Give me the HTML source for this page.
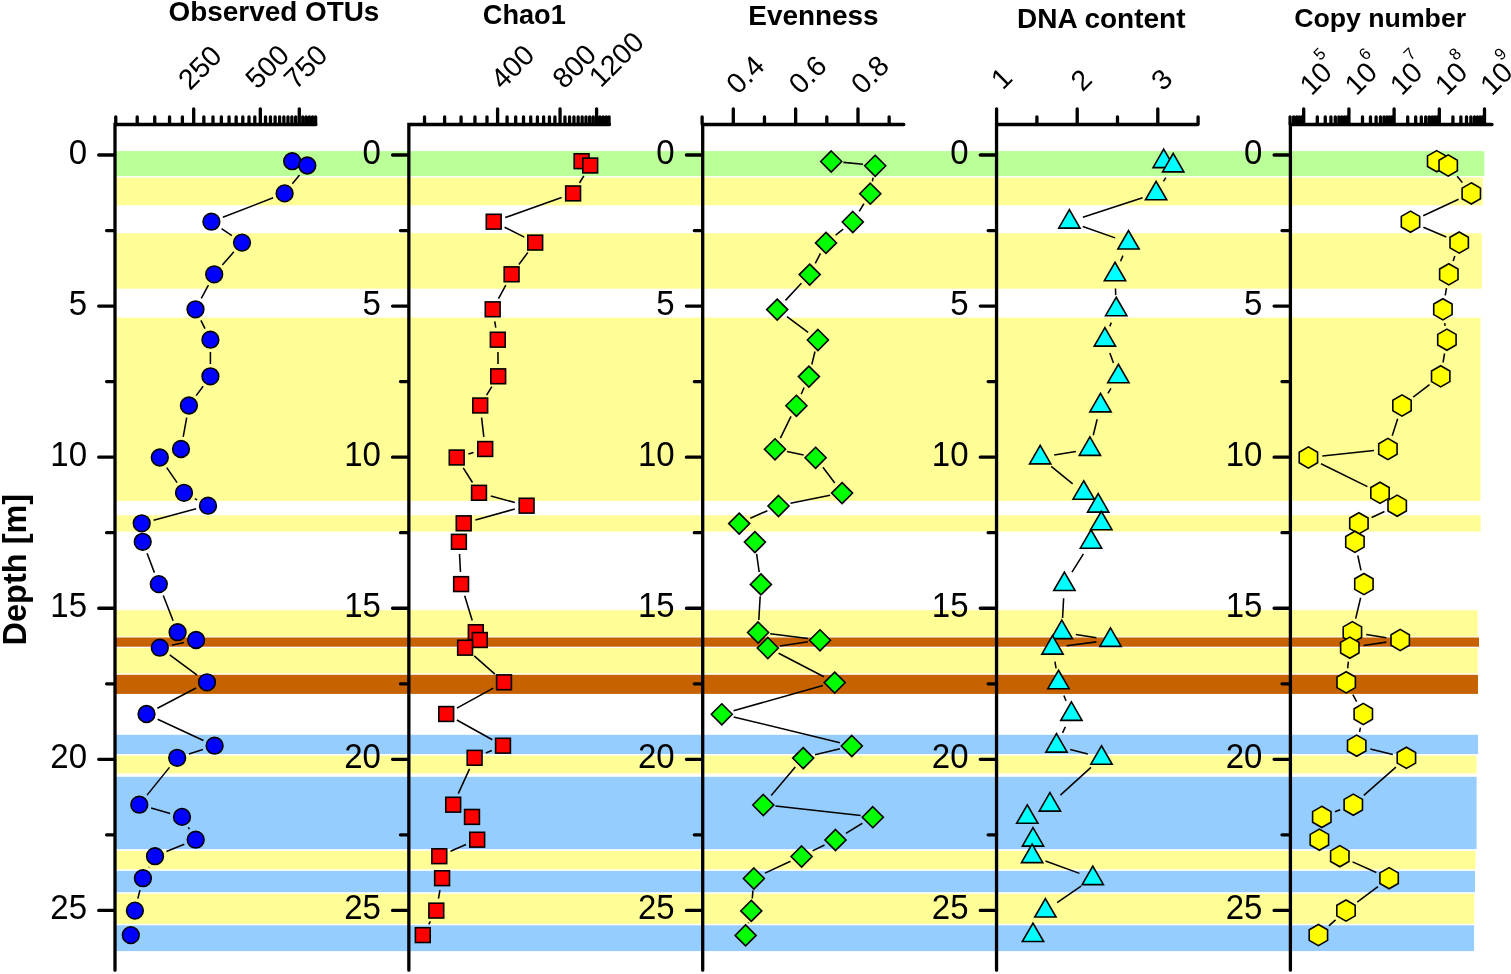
<!DOCTYPE html>
<html lang="en"><head><meta charset="utf-8"><title>Depth profiles</title>
<style>html,body{margin:0;padding:0;background:#fff}body{width:1511px;height:974px;overflow:hidden}svg{display:block}</style>
</head><body>
<svg width="1511" height="974" viewBox="0 0 1511 974" font-family='"Liberation Sans", sans-serif'>
<rect width="1511" height="974" fill="#fff"/>
<g>
<rect x="115" y="151.1" width="1369.3" height="25" fill="#BBFF99"/>
<rect x="115" y="177.5" width="1367.8" height="27.8" fill="#FFFD96"/>
<rect x="115" y="233.2" width="1366.9" height="55.5" fill="#FFFD96"/>
<rect x="115" y="317.6" width="1365.5" height="183.2" fill="#FFFD96"/>
<rect x="115" y="515.3" width="1365.6" height="16.2" fill="#FFFD96"/>
<rect x="115" y="610.2" width="1362.6" height="26.2" fill="#FFFD96"/>
<rect x="115" y="637.5" width="1364" height="9.2" fill="#C66300"/>
<rect x="115" y="648" width="1362.6" height="25.4" fill="#FFFD96"/>
<rect x="115" y="674.8" width="1363" height="19.1" fill="#C66300"/>
<rect x="115" y="734.8" width="1363" height="19.2" fill="#96CDFF"/>
<rect x="115" y="755.6" width="1361.6" height="17.9" fill="#FFFD96"/>
<rect x="115" y="776.8" width="1361.6" height="72.3" fill="#96CDFF"/>
<rect x="115" y="850.9" width="1360.6" height="18.4" fill="#FFFD96"/>
<rect x="115" y="870.9" width="1360" height="21.3" fill="#96CDFF"/>
<rect x="115" y="893.8" width="1359.3" height="30.1" fill="#FFFD96"/>
<rect x="115" y="925.3" width="1359.1" height="25.8" fill="#96CDFF"/>
</g>
<path d="M299.54 175.04L292.36 183.86M273.13 197.84L222.87 217.26M221.56 228.64L231.84 235.66M233.89 251.85L222.31 265.05M208.4 285.15L201.3 298.45M200.91 320.34L204.99 328.66M210.4 352L210.4 364M203.11 386.2L196.19 395.6M186.7 417.6L183.2 436.9M166.75 467.64L177.05 482.66M194.83 498.62L197.17 499.88M196.11 508.86L153.59 520.14M147.08 553.3L154.42 572.6M163.28 595.56L173.12 620.74M184.07 642.55L171.83 645.15M169.72 654.97L197.08 675.03M196.1 688.01L157.4 708.29M157.65 719.19L203.45 740.51M202.9 749.49L188.9 754.01M169.47 767.37L147.03 795.13M151.13 808.08L170.17 813.52M188.34 827.44L189.36 829.16M184.3 844.32L166.4 851.58M149.07 866.98L148.83 867.42M139.95 890.14L137.85 898.66" stroke="#000" stroke-width="1.55" fill="none"/>
<g fill="#0000FF" stroke="#000" stroke-width="1.6" stroke-linejoin="miter">
<circle cx="292.2" cy="161.2" r="8.35"/>
<circle cx="307.3" cy="165.5" r="8.35"/>
<circle cx="284.6" cy="193.4" r="8.35"/>
<circle cx="211.4" cy="221.7" r="8.35"/>
<circle cx="242" cy="242.6" r="8.35"/>
<circle cx="214.2" cy="274.3" r="8.35"/>
<circle cx="195.5" cy="309.3" r="8.35"/>
<circle cx="210.4" cy="339.7" r="8.35"/>
<circle cx="210.4" cy="376.3" r="8.35"/>
<circle cx="188.9" cy="405.5" r="8.35"/>
<circle cx="181" cy="449" r="8.35"/>
<circle cx="159.8" cy="457.5" r="8.35"/>
<circle cx="184" cy="492.8" r="8.35"/>
<circle cx="208" cy="505.7" r="8.35"/>
<circle cx="141.7" cy="523.3" r="8.35"/>
<circle cx="142.7" cy="541.8" r="8.35"/>
<circle cx="158.8" cy="584.1" r="8.35"/>
<circle cx="177.6" cy="632.2" r="8.35"/>
<circle cx="196.1" cy="640" r="8.35"/>
<circle cx="159.8" cy="647.7" r="8.35"/>
<circle cx="207" cy="682.3" r="8.35"/>
<circle cx="146.5" cy="714" r="8.35"/>
<circle cx="214.6" cy="745.7" r="8.35"/>
<circle cx="177.2" cy="757.8" r="8.35"/>
<circle cx="139.3" cy="804.7" r="8.35"/>
<circle cx="182" cy="816.9" r="8.35"/>
<circle cx="195.7" cy="839.7" r="8.35"/>
<circle cx="155" cy="856.2" r="8.35"/>
<circle cx="142.9" cy="878.2" r="8.35"/>
<circle cx="134.9" cy="910.6" r="8.35"/>
<circle cx="130.8" cy="935.1" r="8.35"/>
</g>
<path d="M583.82 175.9L579.48 183M561.61 197.5L505.19 217.6M504.6 227.19L524.3 237.11M527.91 252.39L518.89 264.51M505.8 285.03L498.5 298.57M494.72 321.33L495.78 327.67M497.93 351.9L498.07 364.1M491.8 386.69L486.6 395.11M481.59 417.62L483.81 436.88M473.51 452.49L468.39 454.01M463.22 467.81L472.48 482.49M490.78 495.99L514.82 502.51M514.85 508.99L475.45 520.01M459.53 553.98L460.47 571.92M464.67 595.77L472.23 620.53M474.22 655.81L494.88 674.19M493.3 688.17L456.9 708.13M456.85 719.95L492.35 739.75M491.78 750.48L485.82 753.02M469.54 768.9L458.26 793.6M466.01 844.57L450.49 851.33M439.95 890.21L438.45 898.59M430.41 921.29L428.69 924.41" stroke="#000" stroke-width="1.55" fill="none"/>
<g fill="#FF0000" stroke="#000" stroke-width="1.6" stroke-linejoin="miter">
<rect x="574.2" y="153.8" width="14.8" height="14.8"/>
<rect x="582.8" y="158.1" width="14.8" height="14.8"/>
<rect x="565.7" y="186" width="14.8" height="14.8"/>
<rect x="486.3" y="214.3" width="14.8" height="14.8"/>
<rect x="527.8" y="235.2" width="14.8" height="14.8"/>
<rect x="504.2" y="266.9" width="14.8" height="14.8"/>
<rect x="485.3" y="301.9" width="14.8" height="14.8"/>
<rect x="490.4" y="332.3" width="14.8" height="14.8"/>
<rect x="490.8" y="368.9" width="14.8" height="14.8"/>
<rect x="472.8" y="398.1" width="14.8" height="14.8"/>
<rect x="477.8" y="441.6" width="14.8" height="14.8"/>
<rect x="449.3" y="450.1" width="14.8" height="14.8"/>
<rect x="471.6" y="485.4" width="14.8" height="14.8"/>
<rect x="519.2" y="498.3" width="14.8" height="14.8"/>
<rect x="456.3" y="515.9" width="14.8" height="14.8"/>
<rect x="451.5" y="534.4" width="14.8" height="14.8"/>
<rect x="453.7" y="576.7" width="14.8" height="14.8"/>
<rect x="468.4" y="624.8" width="14.8" height="14.8"/>
<rect x="472.4" y="632.6" width="14.8" height="14.8"/>
<rect x="457.7" y="640.3" width="14.8" height="14.8"/>
<rect x="496.6" y="674.9" width="14.8" height="14.8"/>
<rect x="438.8" y="706.6" width="14.8" height="14.8"/>
<rect x="495.6" y="738.3" width="14.8" height="14.8"/>
<rect x="467.2" y="750.4" width="14.8" height="14.8"/>
<rect x="445.8" y="797.3" width="14.8" height="14.8"/>
<rect x="464.6" y="809.5" width="14.8" height="14.8"/>
<rect x="469.8" y="832.3" width="14.8" height="14.8"/>
<rect x="431.9" y="848.8" width="14.8" height="14.8"/>
<rect x="434.7" y="870.8" width="14.8" height="14.8"/>
<rect x="428.9" y="903.2" width="14.8" height="14.8"/>
<rect x="415.4" y="927.7" width="14.8" height="14.8"/>
</g>
<path d="M843.34 162.39L863.06 164.31M873.09 177.52L872.41 181.38M863.88 203.78L859.22 211.32M843.18 229.2L835.62 235.1M820.42 253.45L815.28 263.45M801.4 283.24L785.5 300.36M786.97 316.6L808.13 332.4M814.99 351.55L811.81 364.45M804.1 387.52L801.2 394.28M791.01 416.45L780.39 438.05M786.94 451.5L803.66 455M822.92 467.26L834.78 483.04M830.14 495.23L790.46 503.27M767.37 510.69L750.33 518.31M756.61 553.88L759.19 572.02M760.19 596.28L758.81 620.02M770.2 633.73L807.9 638.47M807.93 641.78L779.87 645.92M778.64 653.3L823.86 676.7M822.95 685.6L733.55 710.7M733.65 716.89L839.95 742.81M839.96 748.65L815.04 754.85M795.29 767.09L771.21 795.41M775.42 806.05L860.68 815.55M862.39 823.26L845.91 833.34M824.53 845.04L812.57 850.86M790.52 861.31L764.98 873.09M752.92 890.36L752.28 898.44M748.54 922.48L748.36 923.22" stroke="#000" stroke-width="1.55" fill="none"/>
<g fill="#00FF00" stroke="#000" stroke-width="1.6" stroke-linejoin="miter">
<path d="M831.2 151L841.7 161.5L831.2 172L820.7 161.5Z"/>
<path d="M875.2 155.3L885.7 165.8L875.2 176.3L864.7 165.8Z"/>
<path d="M870.3 183.2L880.8 193.7L870.3 204.2L859.8 193.7Z"/>
<path d="M852.8 211.5L863.3 222L852.8 232.5L842.3 222Z"/>
<path d="M826 232.4L836.5 242.9L826 253.4L815.5 242.9Z"/>
<path d="M809.7 264.1L820.2 274.6L809.7 285.1L799.2 274.6Z"/>
<path d="M777.2 299.1L787.7 309.6L777.2 320.1L766.7 309.6Z"/>
<path d="M817.9 329.5L828.4 340L817.9 350.5L807.4 340Z"/>
<path d="M808.9 366.1L819.4 376.6L808.9 387.1L798.4 376.6Z"/>
<path d="M796.4 395.3L806.9 405.8L796.4 416.3L785.9 405.8Z"/>
<path d="M775 438.8L785.5 449.3L775 459.8L764.5 449.3Z"/>
<path d="M815.6 447.3L826.1 457.8L815.6 468.3L805.1 457.8Z"/>
<path d="M842.1 482.6L852.6 493.1L842.1 503.6L831.6 493.1Z"/>
<path d="M778.5 495.5L789 506L778.5 516.5L768 506Z"/>
<path d="M739.2 513.1L749.7 523.6L739.2 534.1L728.7 523.6Z"/>
<path d="M754.9 531.6L765.4 542.1L754.9 552.6L744.4 542.1Z"/>
<path d="M760.9 573.9L771.4 584.4L760.9 594.9L750.4 584.4Z"/>
<path d="M758.1 622L768.6 632.5L758.1 643L747.6 632.5Z"/>
<path d="M820 629.8L830.5 640.3L820 650.8L809.5 640.3Z"/>
<path d="M767.8 637.5L778.3 648L767.8 658.5L757.3 648Z"/>
<path d="M834.7 672.1L845.2 682.6L834.7 693.1L824.2 682.6Z"/>
<path d="M721.8 703.8L732.3 714.3L721.8 724.8L711.3 714.3Z"/>
<path d="M851.8 735.5L862.3 746L851.8 756.5L841.3 746Z"/>
<path d="M803.2 747.6L813.7 758.1L803.2 768.6L792.7 758.1Z"/>
<path d="M763.3 794.5L773.8 805L763.3 815.5L752.8 805Z"/>
<path d="M872.8 806.7L883.3 817.2L872.8 827.7L862.3 817.2Z"/>
<path d="M835.5 829.5L846 840L835.5 850.5L825 840Z"/>
<path d="M801.6 846L812.1 856.5L801.6 867L791.1 856.5Z"/>
<path d="M753.9 868L764.4 878.5L753.9 889L743.4 878.5Z"/>
<path d="M751.3 900.4L761.8 910.9L751.3 921.4L740.8 910.9Z"/>
<path d="M745.6 924.9L756.1 935.4L745.6 945.9L735.1 935.4Z"/>
</g>
<path d="M1165.78 177.61L1163.52 181.29M1142.6 197.81L1082.9 217.29M1082.79 226.43L1115.11 237.87M1122.94 255.66L1120.56 261.24M1115.49 288.49L1115.71 295.11M1111.25 322.61L1109.85 326.39M1109.81 353.02L1113.49 362.98M1110.98 388.41L1107.92 393.39M1097.14 419.3L1093.26 435.2M1075.9 451.39L1054.2 455.11M1051.23 466.45L1072.67 483.85M1083.44 553.82L1071.96 572.08M1063.63 598.28L1062.57 618.02M1075.82 634.45L1096.48 637.75M1096.42 641.87L1066.58 645.83M1054.93 661.69L1056.07 668.31M1063.85 695.45L1066.05 700.85M1065.36 726.85L1062.54 732.85M1070.21 749.39L1087.79 754.11M1090.99 767.35L1060.41 795.15M1045.45 861.04L1079.45 873.36M1081.08 886.21L1057.12 902.59" stroke="#000" stroke-width="1.55" fill="none"/>
<g fill="#00FFFF" stroke="#000" stroke-width="1.6" stroke-linejoin="miter">
<path d="M1163.7 149.15L1174.35 167.6L1153.05 167.6Z"/>
<path d="M1173.2 153.45L1183.85 171.9L1162.55 171.9Z"/>
<path d="M1156.1 181.35L1166.75 199.8L1145.45 199.8Z"/>
<path d="M1069.4 209.65L1080.05 228.1L1058.75 228.1Z"/>
<path d="M1128.5 230.55L1139.15 249L1117.85 249Z"/>
<path d="M1115 262.25L1125.65 280.7L1104.35 280.7Z"/>
<path d="M1116.2 297.25L1126.85 315.7L1105.55 315.7Z"/>
<path d="M1104.9 327.65L1115.55 346.1L1094.25 346.1Z"/>
<path d="M1118.4 364.25L1129.05 382.7L1107.75 382.7Z"/>
<path d="M1100.5 393.45L1111.15 411.9L1089.85 411.9Z"/>
<path d="M1089.9 436.95L1100.55 455.4L1079.25 455.4Z"/>
<path d="M1040.2 445.45L1050.85 463.9L1029.55 463.9Z"/>
<path d="M1083.7 480.75L1094.35 499.2L1073.05 499.2Z"/>
<path d="M1098.2 493.65L1108.85 512.1L1087.55 512.1Z"/>
<path d="M1101.3 511.25L1111.95 529.7L1090.65 529.7Z"/>
<path d="M1091 529.75L1101.65 548.2L1080.35 548.2Z"/>
<path d="M1064.4 572.05L1075.05 590.5L1053.75 590.5Z"/>
<path d="M1061.8 620.15L1072.45 638.6L1051.15 638.6Z"/>
<path d="M1110.5 627.95L1121.15 646.4L1099.85 646.4Z"/>
<path d="M1052.5 635.65L1063.15 654.1L1041.85 654.1Z"/>
<path d="M1058.5 670.25L1069.15 688.7L1047.85 688.7Z"/>
<path d="M1071.4 701.95L1082.05 720.4L1060.75 720.4Z"/>
<path d="M1056.5 733.65L1067.15 752.1L1045.85 752.1Z"/>
<path d="M1101.5 745.75L1112.15 764.2L1090.85 764.2Z"/>
<path d="M1049.9 792.65L1060.55 811.1L1039.25 811.1Z"/>
<path d="M1027.3 804.85L1037.95 823.3L1016.65 823.3Z"/>
<path d="M1033 827.65L1043.65 846.1L1022.35 846.1Z"/>
<path d="M1032.1 844.15L1042.75 862.6L1021.45 862.6Z"/>
<path d="M1092.8 866.15L1103.45 884.6L1082.15 884.6Z"/>
<path d="M1045.4 898.55L1056.05 917L1034.75 917Z"/>
<path d="M1033 923.05L1043.65 941.5L1022.35 941.5Z"/>
</g>
<path d="M1457.13 176.28L1462.37 182.62M1458.61 199.31L1423.19 215.79M1423.37 227.22L1446.33 237.08M1454.84 255.9L1453.16 261M1446.47 288.11L1445.23 295.49M1444.73 323.18L1445.07 325.82M1444.56 353.5L1443.04 362.5M1429.52 384.73L1413.18 397.07M1397.68 418.82L1392.22 435.68M1373.98 450.49L1322.32 456.01M1320.96 463.69L1367.44 486.61M1384.48 511.55L1371.62 517.45M1357.81 555.49L1360.99 570.41M1360.64 597.72L1355.66 618.58M1366.22 634.45L1386.38 637.75M1386.36 642.11L1363.64 645.59M1348.35 661.62L1347.65 668.38M1352.85 694.62L1356.65 701.68M1360.45 727.71L1359.55 731.99M1370.3 749.01L1392.8 754.49M1395.91 767.07L1363.79 795.43M1340.24 809.76L1334.86 811.84M1352.58 861.91L1376.32 872.49M1377.91 886.61L1357.19 902.19M1335.53 919.89L1328.87 925.81" stroke="#000" stroke-width="1.55" fill="none"/>
<g fill="#FFFF00" stroke="#000" stroke-width="1.6" stroke-linejoin="miter">
<path d="M1436.7 150.6L1445.88 155.9L1445.88 166.5L1436.7 171.8L1427.52 166.5L1427.52 155.9Z"/>
<path d="M1448.2 154.9L1457.38 160.2L1457.38 170.8L1448.2 176.1L1439.02 170.8L1439.02 160.2Z"/>
<path d="M1471.3 182.8L1480.48 188.1L1480.48 198.7L1471.3 204L1462.12 198.7L1462.12 188.1Z"/>
<path d="M1410.5 211.1L1419.68 216.4L1419.68 227L1410.5 232.3L1401.32 227L1401.32 216.4Z"/>
<path d="M1459.2 232L1468.38 237.3L1468.38 247.9L1459.2 253.2L1450.02 247.9L1450.02 237.3Z"/>
<path d="M1448.8 263.7L1457.98 269L1457.98 279.6L1448.8 284.9L1439.62 279.6L1439.62 269Z"/>
<path d="M1442.9 298.7L1452.08 304L1452.08 314.6L1442.9 319.9L1433.72 314.6L1433.72 304Z"/>
<path d="M1446.9 329.1L1456.08 334.4L1456.08 345L1446.9 350.3L1437.72 345L1437.72 334.4Z"/>
<path d="M1440.7 365.7L1449.88 371L1449.88 381.6L1440.7 386.9L1431.52 381.6L1431.52 371Z"/>
<path d="M1402 394.9L1411.18 400.2L1411.18 410.8L1402 416.1L1392.82 410.8L1392.82 400.2Z"/>
<path d="M1387.9 438.4L1397.08 443.7L1397.08 454.3L1387.9 459.6L1378.72 454.3L1378.72 443.7Z"/>
<path d="M1308.4 446.9L1317.58 452.2L1317.58 462.8L1308.4 468.1L1299.22 462.8L1299.22 452.2Z"/>
<path d="M1380 482.2L1389.18 487.5L1389.18 498.1L1380 503.4L1370.82 498.1L1370.82 487.5Z"/>
<path d="M1397.2 495.1L1406.38 500.4L1406.38 511L1397.2 516.3L1388.02 511L1388.02 500.4Z"/>
<path d="M1358.9 512.7L1368.08 518L1368.08 528.6L1358.9 533.9L1349.72 528.6L1349.72 518Z"/>
<path d="M1354.9 531.2L1364.08 536.5L1364.08 547.1L1354.9 552.4L1345.72 547.1L1345.72 536.5Z"/>
<path d="M1363.9 573.5L1373.08 578.8L1373.08 589.4L1363.9 594.7L1354.72 589.4L1354.72 578.8Z"/>
<path d="M1352.4 621.6L1361.58 626.9L1361.58 637.5L1352.4 642.8L1343.22 637.5L1343.22 626.9Z"/>
<path d="M1400.2 629.4L1409.38 634.7L1409.38 645.3L1400.2 650.6L1391.02 645.3L1391.02 634.7Z"/>
<path d="M1349.8 637.1L1358.98 642.4L1358.98 653L1349.8 658.3L1340.62 653L1340.62 642.4Z"/>
<path d="M1346.2 671.7L1355.38 677L1355.38 687.6L1346.2 692.9L1337.02 687.6L1337.02 677Z"/>
<path d="M1363.3 703.4L1372.48 708.7L1372.48 719.3L1363.3 724.6L1354.12 719.3L1354.12 708.7Z"/>
<path d="M1356.7 735.1L1365.88 740.4L1365.88 751L1356.7 756.3L1347.52 751L1347.52 740.4Z"/>
<path d="M1406.4 747.2L1415.58 752.5L1415.58 763.1L1406.4 768.4L1397.22 763.1L1397.22 752.5Z"/>
<path d="M1353.3 794.1L1362.48 799.4L1362.48 810L1353.3 815.3L1344.12 810L1344.12 799.4Z"/>
<path d="M1321.8 806.3L1330.98 811.6L1330.98 822.2L1321.8 827.5L1312.62 822.2L1312.62 811.6Z"/>
<path d="M1319.4 829.1L1328.58 834.4L1328.58 845L1319.4 850.3L1310.22 845L1310.22 834.4Z"/>
<path d="M1339.8 845.6L1348.98 850.9L1348.98 861.5L1339.8 866.8L1330.62 861.5L1330.62 850.9Z"/>
<path d="M1389.1 867.6L1398.28 872.9L1398.28 883.5L1389.1 888.8L1379.92 883.5L1379.92 872.9Z"/>
<path d="M1346 900L1355.18 905.3L1355.18 915.9L1346 921.2L1336.82 915.9L1336.82 905.3Z"/>
<path d="M1318.4 924.5L1327.58 929.8L1327.58 940.4L1318.4 945.7L1309.22 940.4L1309.22 929.8Z"/>
</g>
<g stroke="#000" stroke-width="3.3" stroke-linecap="round" fill="none">
<path d="M115 970.2L115 124.5L315.9 124.5" stroke-linejoin="miter"/>
<path d="M98.7 155H114.4M98.7 306.08H114.4M98.7 457.16H114.4M98.7 608.24H114.4M98.7 759.32H114.4M98.7 910.4H114.4M106.6 230.54H114.4M106.6 381.62H114.4M106.6 532.7H114.4M106.6 683.78H114.4M106.6 834.86H114.4M193.7 108.85V124.1M260.32 108.85V124.1M299.29 108.85V124.1M115.76 116.85V124.1M137.21 116.85V124.1M154.73 116.85V124.1M169.55 116.85V124.1M182.38 116.85V124.1M203.83 116.85V124.1M212.99 116.85V124.1M221.35 116.85V124.1M229.04 116.85V124.1M236.16 116.85V124.1M242.8 116.85V124.1M249 116.85V124.1M254.82 116.85V124.1M265.51 116.85V124.1M270.44 116.85V124.1M275.13 116.85V124.1M279.6 116.85V124.1M283.88 116.85V124.1M287.97 116.85V124.1M291.89 116.85V124.1M295.66 116.85V124.1M302.78 116.85V124.1M306.15 116.85V124.1M309.41 116.85V124.1M312.56 116.85V124.1M315.62 116.85V124.1"/>
<path d="M408.85 970.2L408.85 124.5L609.45 124.5" stroke-linejoin="miter"/>
<path d="M392.55 155H408.25M392.55 306.08H408.25M392.55 457.16H408.25M392.55 608.24H408.25M392.55 759.32H408.25M392.55 910.4H408.25M400.45 230.54H408.25M400.45 381.62H408.25M400.45 532.7H408.25M400.45 683.78H408.25M400.45 834.86H408.25M497.6 108.85V124.1M560.06 108.85V124.1M596.6 108.85V124.1M424.52 116.85V124.1M444.63 116.85V124.1M461.06 116.85V124.1M474.95 116.85V124.1M486.99 116.85V124.1M507.09 116.85V124.1M515.68 116.85V124.1M523.52 116.85V124.1M530.74 116.85V124.1M537.42 116.85V124.1M543.63 116.85V124.1M549.45 116.85V124.1M554.91 116.85V124.1M564.94 116.85V124.1M569.56 116.85V124.1M573.96 116.85V124.1M578.15 116.85V124.1M582.15 116.85V124.1M585.99 116.85V124.1M589.67 116.85V124.1M593.2 116.85V124.1M599.88 116.85V124.1M603.04 116.85V124.1M606.1 116.85V124.1M609.05 116.85V124.1"/>
<path d="M702.7 970.2L702.7 124.5L903.8 124.5" stroke-linejoin="miter"/>
<path d="M686.4 155H702.1M686.4 306.08H702.1M686.4 457.16H702.1M686.4 608.24H702.1M686.4 759.32H702.1M686.4 910.4H702.1M694.3 230.54H702.1M694.3 381.62H702.1M694.3 532.7H702.1M694.3 683.78H702.1M694.3 834.86H702.1M733.3 108.85V124.1M795.64 108.85V124.1M857.98 108.85V124.1M702.13 116.85V124.1M764.47 116.85V124.1M826.81 116.85V124.1M889.15 116.85V124.1"/>
<path d="M996.55 970.2L996.55 124.5L1197.75 124.5" stroke-linejoin="miter"/>
<path d="M980.25 155H995.95M980.25 306.08H995.95M980.25 457.16H995.95M980.25 608.24H995.95M980.25 759.32H995.95M980.25 910.4H995.95M988.15 230.54H995.95M988.15 381.62H995.95M988.15 532.7H995.95M988.15 683.78H995.95M988.15 834.86H995.95M996.6 108.85V124.1M1077.2 108.85V124.1M1157.8 108.85V124.1M1036.9 116.85V124.1M1117.5 116.85V124.1M1198.1 116.85V124.1"/>
<path d="M1290.4 970.2L1290.4 124.5L1492 124.5" stroke-linejoin="miter"/>
<path d="M1274.1 155H1289.8M1274.1 306.08H1289.8M1274.1 457.16H1289.8M1274.1 608.24H1289.8M1274.1 759.32H1289.8M1274.1 910.4H1289.8M1282 230.54H1289.8M1282 381.62H1289.8M1282 532.7H1289.8M1282 683.78H1289.8M1282 834.86H1289.8M1303.7 108.85V124.1M1348.9 108.85V124.1M1394.1 108.85V124.1M1439.3 108.85V124.1M1484.5 108.85V124.1M1290.09 116.85V124.1M1293.67 116.85V124.1M1296.7 116.85V124.1M1299.32 116.85V124.1M1301.63 116.85V124.1M1317.31 116.85V124.1M1325.27 116.85V124.1M1330.91 116.85V124.1M1335.29 116.85V124.1M1338.87 116.85V124.1M1341.9 116.85V124.1M1344.52 116.85V124.1M1346.83 116.85V124.1M1362.51 116.85V124.1M1370.47 116.85V124.1M1376.11 116.85V124.1M1380.49 116.85V124.1M1384.07 116.85V124.1M1387.1 116.85V124.1M1389.72 116.85V124.1M1392.03 116.85V124.1M1407.71 116.85V124.1M1415.67 116.85V124.1M1421.31 116.85V124.1M1425.69 116.85V124.1M1429.27 116.85V124.1M1432.3 116.85V124.1M1434.92 116.85V124.1M1437.23 116.85V124.1M1452.91 116.85V124.1M1460.87 116.85V124.1M1466.51 116.85V124.1M1470.89 116.85V124.1M1474.47 116.85V124.1M1477.5 116.85V124.1M1480.12 116.85V124.1M1482.43 116.85V124.1"/>
</g>
<g font-size="33" text-anchor="end" fill="#000">
<text transform="translate(87 163.8) scale(1 1.075)">0</text>
<text transform="translate(87 314.88) scale(1 1.075)">5</text>
<text transform="translate(87 465.96) scale(1 1.075)">10</text>
<text transform="translate(87 617.04) scale(1 1.075)">15</text>
<text transform="translate(87 768.12) scale(1 1.075)">20</text>
<text transform="translate(87 919.2) scale(1 1.075)">25</text>
<text transform="translate(380.85 163.8) scale(1 1.075)">0</text>
<text transform="translate(380.85 314.88) scale(1 1.075)">5</text>
<text transform="translate(380.85 465.96) scale(1 1.075)">10</text>
<text transform="translate(380.85 617.04) scale(1 1.075)">15</text>
<text transform="translate(380.85 768.12) scale(1 1.075)">20</text>
<text transform="translate(380.85 919.2) scale(1 1.075)">25</text>
<text transform="translate(674.7 163.8) scale(1 1.075)">0</text>
<text transform="translate(674.7 314.88) scale(1 1.075)">5</text>
<text transform="translate(674.7 465.96) scale(1 1.075)">10</text>
<text transform="translate(674.7 617.04) scale(1 1.075)">15</text>
<text transform="translate(674.7 768.12) scale(1 1.075)">20</text>
<text transform="translate(674.7 919.2) scale(1 1.075)">25</text>
<text transform="translate(968.55 163.8) scale(1 1.075)">0</text>
<text transform="translate(968.55 314.88) scale(1 1.075)">5</text>
<text transform="translate(968.55 465.96) scale(1 1.075)">10</text>
<text transform="translate(968.55 617.04) scale(1 1.075)">15</text>
<text transform="translate(968.55 768.12) scale(1 1.075)">20</text>
<text transform="translate(968.55 919.2) scale(1 1.075)">25</text>
<text transform="translate(1262.4 163.8) scale(1 1.075)">0</text>
<text transform="translate(1262.4 314.88) scale(1 1.075)">5</text>
<text transform="translate(1262.4 465.96) scale(1 1.075)">10</text>
<text transform="translate(1262.4 617.04) scale(1 1.075)">15</text>
<text transform="translate(1262.4 768.12) scale(1 1.075)">20</text>
<text transform="translate(1262.4 919.2) scale(1 1.075)">25</text>
</g>
<text x="273.95" y="21.35" font-size="27.9" font-weight="bold" text-anchor="middle">Observed OTUs</text>
<text x="524.30" y="23.90" font-size="27.2" font-weight="bold" text-anchor="middle">Chao1</text>
<text x="813.40" y="25.00" font-size="27.9" font-weight="bold" text-anchor="middle">Evenness</text>
<text x="1101.30" y="27.80" font-size="28" font-weight="bold" text-anchor="middle">DNA content</text>
<text x="1380.15" y="26.65" font-size="26.7" font-weight="bold" text-anchor="middle">Copy number</text>
<text x="26.05" y="569.65" font-size="32.5" font-weight="bold" text-anchor="middle" transform="rotate(-90 26.05 569.65)">Depth [m]</text>
<text x="206.75" y="74.35" font-size="28.5" font-weight="normal" text-anchor="middle" transform="rotate(-45 206.75 74.35)">250</text>
<text x="274.20" y="73.55" font-size="28.5" font-weight="normal" text-anchor="middle" transform="rotate(-45 274.20 73.55)">500</text>
<text x="312.50" y="73.70" font-size="28.5" font-weight="normal" text-anchor="middle" transform="rotate(-45 312.50 73.70)">750</text>
<text x="519.30" y="73.70" font-size="28.5" font-weight="normal" text-anchor="middle" transform="rotate(-45 519.30 73.70)">400</text>
<text x="581.10" y="73.20" font-size="28.5" font-weight="normal" text-anchor="middle" transform="rotate(-45 581.10 73.20)">800</text>
<text x="623.20" y="66.20" font-size="28.5" font-weight="normal" text-anchor="middle" transform="rotate(-45 623.20 66.20)">1200</text>
<text x="752.10" y="81.60" font-size="28.5" font-weight="normal" text-anchor="middle" transform="rotate(-45 752.10 81.60)">0.4</text>
<text x="814.50" y="81.60" font-size="28.5" font-weight="normal" text-anchor="middle" transform="rotate(-45 814.50 81.60)">0.6</text>
<text x="876.70" y="81.60" font-size="28.5" font-weight="normal" text-anchor="middle" transform="rotate(-45 876.70 81.60)">0.8</text>
<text x="1008.40" y="85.10" font-size="28.5" font-weight="normal" text-anchor="middle" transform="rotate(-45 1008.40 85.10)">1</text>
<text x="1088.10" y="86.95" font-size="28.5" font-weight="normal" text-anchor="middle" transform="rotate(-45 1088.10 86.95)">2</text>
<text x="1168.50" y="86.40" font-size="28.5" font-weight="normal" text-anchor="middle" transform="rotate(-45 1168.50 86.40)">3</text>
<text x="1311.40" y="96.40" font-size="28.5" font-weight="normal" text-anchor="start" transform="rotate(-45 1311.40 96.40)">10<tspan dx="-0.5" dy="-18.6" font-size="16.7">5</tspan></text>
<text x="1356.55" y="96.40" font-size="28.5" font-weight="normal" text-anchor="start" transform="rotate(-45 1356.55 96.40)">10<tspan dx="-0.5" dy="-18.6" font-size="16.7">6</tspan></text>
<text x="1401.70" y="96.40" font-size="28.5" font-weight="normal" text-anchor="start" transform="rotate(-45 1401.70 96.40)">10<tspan dx="-0.5" dy="-18.6" font-size="16.7">7</tspan></text>
<text x="1446.85" y="96.40" font-size="28.5" font-weight="normal" text-anchor="start" transform="rotate(-45 1446.85 96.40)">10<tspan dx="-0.5" dy="-18.6" font-size="16.7">8</tspan></text>
<text x="1492.00" y="96.40" font-size="28.5" font-weight="normal" text-anchor="start" transform="rotate(-45 1492.00 96.40)">10<tspan dx="-0.5" dy="-18.6" font-size="16.7">9</tspan></text>
</svg>
</body></html>
